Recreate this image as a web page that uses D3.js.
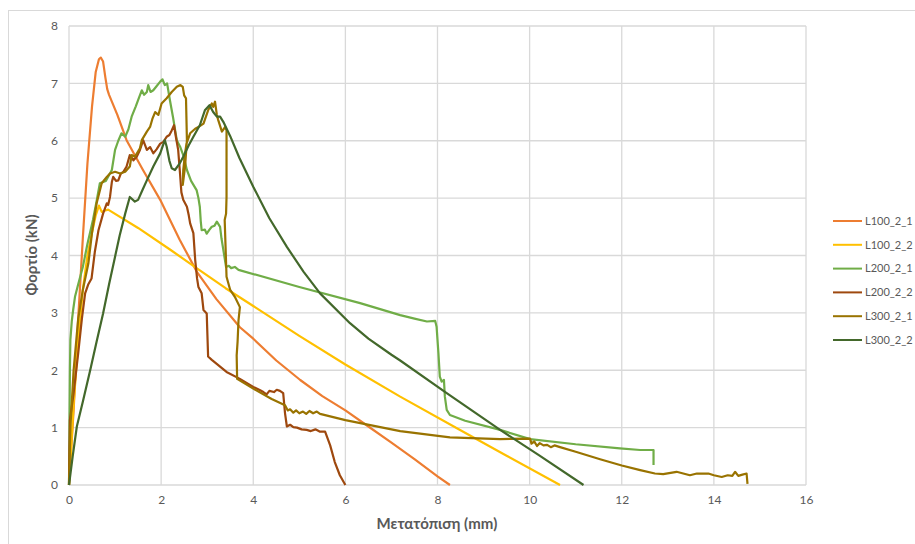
<!DOCTYPE html>
<html>
  <head>
    <meta charset="utf-8">
    <title>Φορτίο - Μετατόπιση</title>
    <script src="https://d3js.org/d3.v7.min.js"></script>
    <style>
      body { margin: 0; background: white; }
      text { font-family: Lato, "Liberation Sans", sans-serif; fill: #595959; }
      .tick text { font-size: 12px; }
      .title { font-size: 15px; font-weight: bold; }
      .legend text { font-size: 11px; }
    </style>
  </head>
  <body>
    <script>
      // series names and colours (Excel-style palette)
      let seriesNames = ["L100_2_1", "L100_2_2", "L200_2_1", "L200_2_2", "L300_2_1", "L300_2_2"];
      let seriesColors = ["#ED7D31", "#FFC000", "#70AD47", "#9E480E", "#997300", "#43682B"];

      let xTicks = [0, 2, 4, 6, 8, 10, 12, 14, 16];
      let yTicks = [0, 1, 2, 3, 4, 5, 6, 7, 8];

      // [displacement mm, load kN]
      let L100_2_1 = [[0,0],[0.1,1.3],[0.2,2.9],[0.3,4.3],[0.4,5.6],[0.5,6.6],[0.58,7.2],[0.65,7.42],[0.69,7.45],
        [0.74,7.38],[0.79,7.1],[0.83,6.9],[0.87,6.8],[1.05,6.45],[1.25,6.01],[1.6,5.5],[1.98,4.97],[2.4,4.28],
        [2.78,3.71],[3.2,3.24],[3.71,2.75],[4,2.55],[4.5,2.17],[5.02,1.83],[5.5,1.55],[6,1.3],[6.5,1.02],
        [7,0.74],[7.5,0.45],[8,0.15],[8.27,0]];

      let L100_2_2 = [[0,0],[0.05,0.7],[0.1,1.4],[0.2,2.5],[0.3,3.4],[0.4,4.0],[0.5,4.4],[0.58,4.7],[0.65,4.87],
        [0.71,4.76],[0.77,4.78],[0.85,4.8],[1.5,4.48],[2.2,4.1],[2.77,3.78],[3.4,3.43],[4,3.12],[5,2.6],[6,2.1],
        [7.19,1.54],[8.49,0.96],[9.5,0.51],[10.66,0]];

      let L200_2_1 = [[0,0],[0.01,1.0],[0.02,2.0],[0.03,2.53],[0.06,2.85],[0.09,3.05],[0.13,3.28],[0.2,3.5],
        [0.3,3.8],[0.4,4.2],[0.52,4.62],[0.6,4.95],[0.67,5.26],[0.8,5.3],[0.93,5.49],[1.0,5.84],[1.07,6.0],
        [1.14,6.13],[1.22,6.07],[1.29,6.2],[1.36,6.42],[1.45,6.6],[1.52,6.75],[1.58,6.88],[1.63,6.8],[1.69,6.85],
        [1.72,6.97],[1.77,6.85],[1.83,6.88],[1.9,6.95],[1.98,7.03],[2.03,7.07],[2.08,6.97],[2.13,7.0],[2.19,6.71],
        [2.26,6.4],[2.34,6.01],[2.41,5.9],[2.48,5.75],[2.56,5.49],[2.65,5.3],[2.77,5.14],[2.81,5.0],[2.84,4.85],
        [2.86,4.6],[2.88,4.44],[2.95,4.45],[2.99,4.38],[3.05,4.45],[3.1,4.5],[3.16,4.52],[3.21,4.59],[3.28,4.5],
        [3.31,4.3],[3.34,4.15],[3.38,3.95],[3.41,3.8],[3.47,3.82],[3.52,3.78],[3.6,3.8],[3.68,3.75],[5,3.45],
        [6.32,3.17],[7.19,2.96],[7.5,2.9],[7.77,2.85],[7.95,2.86],[7.98,2.76],[8.02,2.3],[8.05,1.89],[8.09,1.8],
        [8.14,1.83],[8.16,1.54],[8.2,1.31],[8.27,1.22],[8.6,1.12],[9.36,0.96],[10.01,0.8],[11,0.71],[11.96,0.64],
        [12.4,0.61],[12.69,0.61],[12.69,0.35]];

      let L200_2_2 = [[0,0],[0.01,0.6],[0.02,1.13],[0.1,1.6],[0.2,2.3],[0.28,2.9],[0.35,3.34],[0.42,3.5],
        [0.49,3.6],[0.56,4.06],[0.64,4.44],[0.74,4.73],[0.82,4.91],[0.85,4.88],[0.89,5.02],[0.93,5.28],[0.96,5.37],
        [1.02,5.3],[1.07,5.31],[1.12,5.42],[1.18,5.46],[1.25,5.55],[1.32,5.75],[1.4,5.66],[1.47,5.72],[1.54,5.84],
        [1.61,6.01],[1.69,5.84],[1.76,5.89],[1.83,5.78],[1.9,5.85],[1.98,5.95],[2.05,5.98],[2.12,6.07],[2.18,6.1],
        [2.23,6.18],[2.28,6.27],[2.32,6.07],[2.37,5.84],[2.41,5.43],[2.44,5.1],[2.48,4.97],[2.56,4.85],[2.6,4.7],
        [2.63,4.56],[2.7,4.39],[2.74,3.92],[2.78,3.6],[2.81,3.45],[2.88,3.34],[2.92,3.05],[2.99,2.99],[3.02,2.24],
        [3.1,2.18],[3.42,1.97],[3.71,1.85],[4.0,1.71],[4.15,1.65],[4.22,1.62],[4.29,1.58],[4.35,1.64],[4.45,1.62],
        [4.51,1.66],[4.58,1.64],[4.65,1.6],[4.69,1.25],[4.73,1.02],[4.8,1.05],[4.87,1.01],[4.95,1.0],[5.05,0.97],
        [5.16,0.96],[5.25,0.94],[5.35,0.97],[5.45,0.93],[5.56,0.93],[5.67,0.69],[5.77,0.4],[5.88,0.17],[6.0,0]];

      let L300_2_1 = [[0,0],[0.03,1.0],[0.1,2.0],[0.2,2.9],[0.3,3.4],[0.42,3.86],[0.5,4.4],[0.6,4.91],[0.71,5.26],
        [0.82,5.37],[0.89,5.43],[1.0,5.46],[1.11,5.43],[1.22,5.46],[1.32,5.55],[1.36,5.75],[1.43,5.72],[1.54,5.87],
        [1.58,6.01],[1.69,6.16],[1.76,6.24],[1.81,6.38],[1.87,6.5],[1.94,6.45],[2.01,6.65],[2.12,6.74],[2.23,6.85],
        [2.34,6.94],[2.42,6.97],[2.47,6.94],[2.5,6.79],[2.54,6.74],[2.56,6.01],[2.52,5.55],[2.47,5.23],[2.48,5.49],
        [2.52,5.78],[2.55,5.95],[2.63,6.13],[2.74,6.21],[2.83,6.25],[2.92,6.3],[3.02,6.53],[3.1,6.65],[3.13,6.59],
        [3.17,6.68],[3.21,6.45],[3.24,6.36],[3.32,6.16],[3.39,6.24],[3.42,6.18],[3.42,5.02],[3.41,4.73],[3.38,4.62],
        [3.42,3.63],[3.5,3.4],[3.6,3.28],[3.71,3.1],[3.68,2.87],[3.66,2.5],[3.64,2.26],[3.65,1.85],[4.0,1.68],
        [4.4,1.5],[4.69,1.39],[4.75,1.3],[4.8,1.32],[4.87,1.26],[4.93,1.3],[5.0,1.25],[5.08,1.28],[5.15,1.24],
        [5.22,1.29],[5.3,1.25],[5.38,1.28],[5.45,1.24],[6.0,1.13],[7.19,0.94],[8.27,0.83],[9.36,0.8],[10.01,0.81],
        [10.04,0.72],[10.1,0.76],[10.16,0.68],[10.22,0.73],[10.3,0.69],[10.38,0.7],[10.46,0.66],[10.54,0.69],
        [10.66,0.66],[11.0,0.58],[11.53,0.45],[12.0,0.34],[12.4,0.26],[12.72,0.2],[12.9,0.19],[13.19,0.23],
        [13.48,0.17],[13.63,0.2],[13.88,0.2],[14.0,0.17],[14.17,0.14],[14.3,0.17],[14.4,0.16],[14.46,0.23],
        [14.53,0.16],[14.62,0.18],[14.71,0.2],[14.73,0.02]];

      let L300_2_2 = [[0,0],[0.08,0.5],[0.17,1.02],[0.3,1.45],[0.46,2.0],[0.6,2.5],[0.74,2.99],[0.87,3.5],
        [1.0,3.98],[1.1,4.35],[1.22,4.73],[1.32,5.02],[1.43,4.94],[1.5,4.97],[1.6,5.15],[1.69,5.31],[1.83,5.55],
        [1.98,5.78],[2.08,6.01],[2.12,5.9],[2.18,5.65],[2.23,5.52],[2.3,5.49],[2.4,5.6],[2.48,5.72],[2.6,5.92],
        [2.7,6.07],[2.84,6.27],[2.95,6.53],[3.05,6.62],[3.13,6.5],[3.21,6.42],[3.28,6.42],[3.35,6.33],[3.5,6.08],
        [3.7,5.7],[4.0,5.2],[4.35,4.65],[4.73,4.15],[5.09,3.72],[5.45,3.34],[6.1,2.82],[6.5,2.55],[7.0,2.27],
        [7.19,2.17],[8.2,1.6],[9.36,0.96],[10.2,0.52],[11.17,0]];

      let seriesData = [L100_2_1, L100_2_2, L200_2_1, L200_2_2, L300_2_1, L300_2_2];

      let width = 915, height = 544;
      let margin = {left: 69, right: 109, top: 26, bottom: 59};

      let svg = d3.select("body").append("svg")
                  .attr("width", width).attr("height", height);

      // chart area border
      svg.append("rect").attr("x", 8.5).attr("y", 10.5)
         .attr("width", 1000).attr("height", 1000)
         .attr("fill", "none").attr("stroke", "#d9d9d9");

      let x = d3.scaleLinear().domain([0, 16]).range([margin.left, width - margin.right]);
      let y = d3.scaleLinear().domain([0, 8]).range([height - margin.bottom, margin.top]);

      // grid
      let grid = svg.append("g");
      grid.selectAll(".vg").data(xTicks).enter().append("line")
          .attr("x1", d => x(d)).attr("x2", d => x(d))
          .attr("y1", y(0)).attr("y2", y(8))
          .attr("stroke", "#d9d9d9").attr("stroke-width", 1.3);
      grid.selectAll(".hg").data(yTicks).enter().append("line")
          .attr("x1", x(0)).attr("x2", x(16))
          .attr("y1", d => y(d)).attr("y2", d => y(d))
          .attr("stroke", "#d9d9d9").attr("stroke-width", 1.3);

      let xAxis = svg.append("g").attr("transform", "translate(0," + y(0) + ")")
          .call(d3.axisBottom(x).tickValues(xTicks).tickSize(0).tickPadding(10));
      let yAxis = svg.append("g").attr("transform", "translate(" + x(0) + ",0)")
          .call(d3.axisLeft(y).tickValues(yTicks).tickSize(0).tickPadding(11));
      xAxis.select(".domain").remove();
      yAxis.select(".domain").remove();

      // series
      let line = d3.line().x(d => x(d[0])).y(d => y(d[1]));
      svg.append("g").selectAll("path").data(seriesData).enter().append("path")
         .attr("d", line)
         .attr("fill", "none")
         .attr("stroke", (d, i) => seriesColors[i])
         .attr("stroke-width", 2.2)
         .attr("stroke-linejoin", "round");

      // axis titles
      svg.append("text").attr("class", "title")
         .attr("x", 437).attr("y", 529).attr("text-anchor", "middle")
         .text("Μετατόπιση (mm)");
      svg.append("text").attr("class", "title")
         .attr("transform", "translate(37,255) rotate(-90)")
         .attr("text-anchor", "middle")
         .text("Φορτίο (kN)");

      // legend
      let legend = svg.append("g").attr("class", "legend")
          .attr("transform", "translate(833,221)");
      let items = legend.selectAll("g").data(seriesNames).enter().append("g")
          .attr("transform", (d, i) => "translate(0," + i * 23.8 + ")");
      items.append("line").attr("x1", 0).attr("x2", 29)
           .attr("stroke", (d, i) => seriesColors[i]).attr("stroke-width", 2);
      items.append("text").attr("x", 32).attr("dy", "0.35em").text(d => d);
    </script>
  </body>
</html>
